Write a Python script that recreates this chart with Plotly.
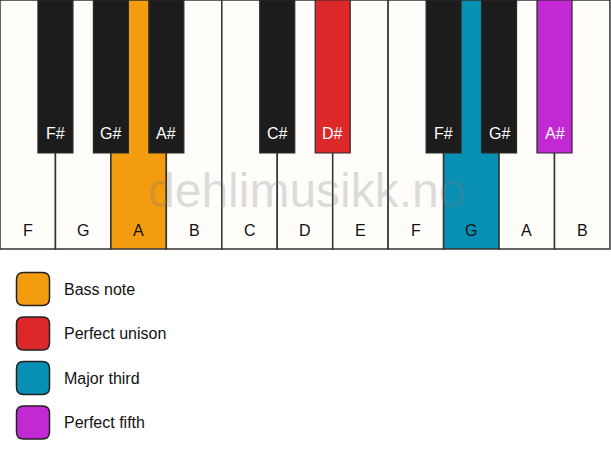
import plotly.graph_objects as go

# ---- data ----
white_keys = ["F", "G", "A", "B", "C", "D", "E", "F", "G", "A", "B"]
# black keys sit on the boundary after white key index
black_keys = ["F#", "G#", "A#", "C#", "D#", "F#", "G#", "A#"]
black_pos = [1, 2, 3, 5, 6, 8, 9, 10]
# highlights: index -> role
white_highlight = {2: "Bass note", 8: "Major third"}
black_highlight = {4: "Perfect unison", 7: "Perfect fifth"}
legend_labels = ["Bass note", "Perfect unison", "Major third", "Perfect fifth"]
legend_colors = ["#F39C0F", "#DC2828", "#0890B4", "#C229D3"]
watermark = "dehlimusikk.no"

role_color = dict(zip(legend_labels, legend_colors))

W, H = 611, 461
KEY_W = 55.45          # px per white key
WHITE_H = 249
BLACK_H = 153
BLACK_W = 35

WHITE_FILL = "#FEFDFA"
BLACK_FILL = "#1C1C1C"
OUTLINE = "#333333"
FONT = "Liberation Sans, Arial, sans-serif"

fig = go.Figure()
shapes = []
annotations = []

# white keys
for i, name in enumerate(white_keys):
    x0 = i * KEY_W
    x1 = (i + 1) * KEY_W
    fill = role_color.get(white_highlight.get(i), WHITE_FILL)
    shapes.append(dict(type="rect", x0=x0, x1=x1, y0=0, y1=WHITE_H,
                       fillcolor=fill, line=dict(color=OUTLINE, width=1.5),
                       layer="below"))
    annotations.append(dict(x=(x0 + x1) / 2, y=230, text=name, showarrow=False,
                            font=dict(family=FONT, size=16, color="#111111"),
                            xanchor="center", yanchor="middle"))

# black keys
for j, name in enumerate(black_keys):
    c = black_pos[j] * KEY_W
    fill = role_color.get(black_highlight.get(j), BLACK_FILL)
    shapes.append(dict(type="rect", x0=c - BLACK_W / 2, x1=c + BLACK_W / 2,
                       y0=0, y1=BLACK_H, fillcolor=fill,
                       line=dict(color="#2a2a2a", width=1.2), layer="below"))
    annotations.append(dict(x=c, y=133, text=name, showarrow=False,
                            font=dict(family=FONT, size=16, color="#FFFFFF"),
                            xanchor="center", yanchor="middle"))

# watermark
annotations.append(dict(x=W / 2 + 1, y=190, text=watermark, showarrow=False,
                        font=dict(family=FONT, size=48, color="rgba(120,120,120,0.26)"),
                        xanchor="center", yanchor="middle"))

# legend
def rounded(x0, y0, x1, y1, r):
    return (f"M {x0+r},{y0} L {x1-r},{y0} Q {x1},{y0} {x1},{y0+r} "
            f"L {x1},{y1-r} Q {x1},{y1} {x1-r},{y1} L {x0+r},{y1} "
            f"Q {x0},{y1} {x0},{y1-r} L {x0},{y0+r} Q {x0},{y0} {x0+r},{y0} Z")

for k, (lab, col) in enumerate(zip(legend_labels, legend_colors)):
    yc = 289 + k * 44.5
    shapes.append(dict(type="path", path=rounded(16.5, yc - 16.5, 49.5, yc + 16.5, 7),
                       fillcolor=col, line=dict(color="#222222", width=1.5)))
    annotations.append(dict(x=62, y=yc, text=lab, showarrow=False,
                            font=dict(family=FONT, size=16, color="#111111"),
                            xanchor="left", yanchor="middle"))

fig.update_layout(
    width=W, height=H,
    margin=dict(l=0, r=0, t=0, b=0),
    paper_bgcolor="white", plot_bgcolor="white",
    xaxis=dict(range=[0, W], visible=False, fixedrange=True),
    yaxis=dict(range=[H, 0], visible=False, fixedrange=True),
    shapes=shapes, annotations=annotations, showlegend=False,
)

fig.write_html("out.html", config={"displayModeBar": False},
               post_script="document.body.style.margin='0';document.body.style.overflow='hidden';")
